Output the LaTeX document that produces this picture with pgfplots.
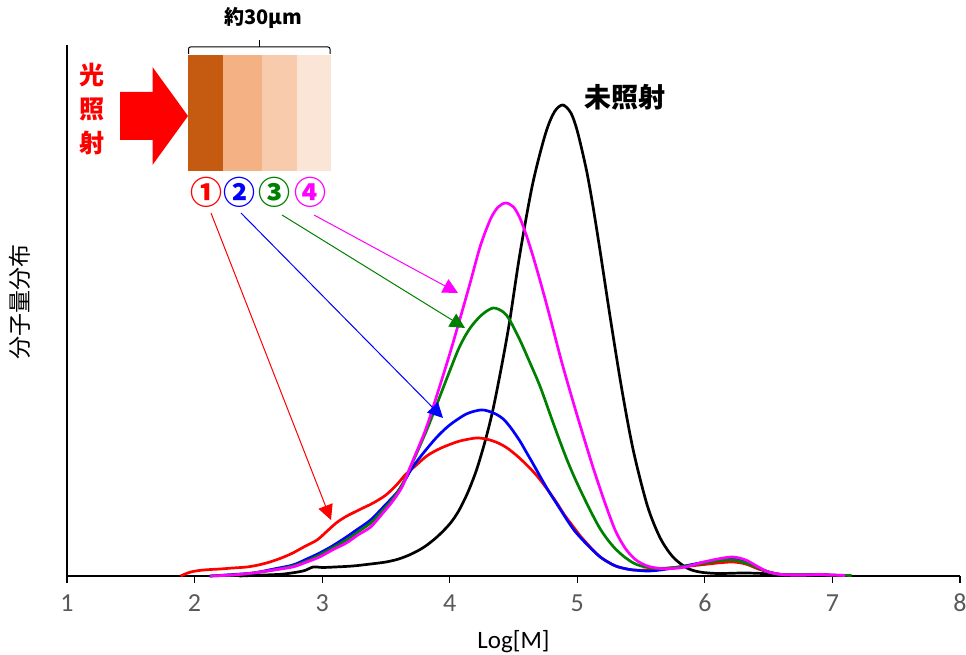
\documentclass[border=0pt]{standalone}
\usepackage{fontspec}
\usepackage{graphicx}
\usepackage{pgfplots}
\pgfplotsset{compat=1.18}
\usetikzlibrary{arrows.meta}
\setmainfont{Carlito}
\newfontfamily\jp{Noto Sans CJK JP}
\definecolor{tickgray}{HTML}{595959}
\definecolor{cA}{HTML}{C55A11}
\definecolor{cB}{HTML}{F4B183}
\definecolor{cC}{HTML}{F8CBAD}
\definecolor{cD}{HTML}{FBE5D6}
\definecolor{mygreen}{RGB}{0,128,0}
\definecolor{mymag}{RGB}{255,0,255}

\pgfplotstableread{
x y
2.35 0
2.55 1
2.7 2
2.85 5
2.93 9
3.0 8.5
3.1 9
3.24 10
3.38 12
3.5 14
3.6 17
3.7 22
3.8 29
3.9 39
4.0 52
4.07 65
4.14 83
4.21 106
4.28 136
4.34 167
4.41 212
4.47 255
4.55 322
4.65 392
4.75 442
4.82 464
4.886 471
4.95 463
5.0 445
5.07 407
5.12 372
5.18 324
5.26 257
5.35 186
5.44 125
5.55 70
5.65 38
5.75 19
5.86 8
5.96 4
6.1 2.5
6.3 3
6.45 2.5
6.6 1
6.8 1
6.95 0.5
}\blackdata

\pgfplotstableread{
x y
1.89 0
1.97 4
2.07 6
2.2 7
2.3 8
2.41 9
2.5 11
2.59 14
2.68 18
2.77 23
2.87 30
2.96 36
3.04 45
3.11 53
3.18 59
3.24 63
3.32 68
3.40 73
3.5 81
3.59 92
3.65 101
3.73 110
3.82 120
3.9 126
3.97 130
4.08 135
4.21 138
4.3 136.5
4.38 133
4.45 128
4.52 121
4.58 114
4.65 105
4.71 96
4.78 84
4.84 73
4.9 61
4.97 49
5.03 39
5.08 32
5.13 25
5.18 19
5.24 14
5.3 10
5.37 7.5
5.44 6
5.55 6
5.65 7
5.8 9
5.96 11
6.1 13
6.22 14
6.32 12
6.42 7
6.5 4
6.6 1.5
6.75 1
6.9 1.5
7.0 0.5
}\reddata

\pgfplotstableread{
x y
2.12 0
2.3 1.5
2.46 3
2.62 7
2.77 11
2.88 17
2.98 23
3.08 30
3.19 39
3.28 47
3.38 56
3.48 69
3.59 84
3.65 96
3.71 109
3.8 124
3.9 139
4.0 151
4.13 162
4.24 166
4.3 165
4.36 162
4.42 157
4.48 148
4.55 135
4.6 124
4.65 113
4.72 97
4.78 84
4.85 70
4.92 56
4.98 45
5.05 35
5.12 26
5.18 19
5.24 14
5.3 10
5.37 7.5
5.44 6
5.55 5
5.65 6
5.8 9
5.96 13
6.1 16
6.22 17
6.32 14
6.42 8
6.5 4
6.6 1.5
6.75 1
6.9 1.5
7.0 0.5
}\bluedata

\pgfplotstableread{
x y
2.12 0
2.3 1
2.46 3
2.62 6
2.77 10
2.88 15
2.98 21
3.08 28
3.19 36
3.28 44
3.38 53
3.47 65
3.56 78
3.63 92
3.7 111
3.82 146
3.9 172
4.0 205
4.08 230
4.16 248
4.25 261
4.34 268
4.42 264
4.47 256
4.55 236
4.63 213
4.71 189
4.8 157
4.86 136
4.92 116
4.98 98
5.05 79
5.12 61
5.18 47
5.24 36
5.3 27
5.37 19
5.44 13
5.5 10
5.58 8
5.65 7.5
5.8 9
5.96 12
6.1 15
6.22 16
6.32 13
6.42 8
6.5 4
6.6 1.5
6.75 1
6.9 1.5
7.0 1
7.15 0.5
}\greendata

\pgfplotstableread{
x y
2.12 0
2.3 1
2.46 3
2.62 6
2.77 9
2.88 14
2.98 19
3.08 26
3.19 33
3.28 41
3.38 49
3.47 62
3.56 76
3.63 90
3.7 112
3.81 146
3.9 181
4.0 222
4.08 257
4.16 293
4.24 330
4.32 357
4.38 369
4.44 373
4.5 369
4.55 358
4.6 341
4.65 321
4.7 299
4.75 276
4.8 252
4.88 213
4.97 173
5.05 139
5.13 106
5.22 72
5.3 45
5.38 27
5.46 16
5.55 10
5.65 7.5
5.75 7.5
5.85 9
5.96 13
6.1 17
6.22 19
6.32 16
6.42 9
6.5 4
6.6 1.5
6.75 1
6.9 1.5
7.0 1
7.1 0.5
}\magdata

\begin{document}
\begin{tikzpicture}
\path[use as bounding box] (-67pt,-79pt) rectangle (899pt,576pt);
\begin{axis}[
  at={(0,0)}, anchor=south west,
  scale only axis, width=893pt, height=531pt,
  xmin=1, xmax=8, ymin=0, ymax=531,
  axis lines=left,
  axis line style={-, line width=1.5pt},
  xtick={1,2,3,4,5,6,7,8}, ytick=\empty,
  tick align=outside, major tick length=7pt,
  tick style={black, line width=1.2pt},
  xticklabel style={font=\fontsize{26}{26}\selectfont, text=tickgray, anchor=center, yshift=-20pt},
  /pgf/number format/assume math mode=true,
  clip=false,
  every axis plot/.append style={line width=2.7pt, smooth, no markers, line join=round},
]
\addplot[black] table[x=x,y=y] {\blackdata};
\addplot[red] table[x=x,y=y] {\reddata};
\addplot[blue] table[x=x,y=y] {\bluedata};
\addplot[mygreen] table[x=x,y=y] {\greendata};
\addplot[mymag] table[x=x,y=y] {\magdata};
\end{axis}
\begin{scope}[x=1pt,y=-1pt,shift={(-67pt,576pt)}]
 \fill[cA] (188,55) rectangle (222.5,171);
 \fill[cB] (222.5,55) rectangle (261.5,171);
 \fill[cC] (261.5,55) rectangle (296.5,171);
 \fill[cD] (296.5,55) rectangle (330.5,171);
 \fill[red] (120,92) -- (152.5,92) -- (152.5,67) -- (188,116) -- (152.5,165) -- (152.5,140) -- (120,140) -- cycle;
 \draw[line width=1pt, rounded corners=2pt] (188.5,54) -- (188.5,47) -- (330,47) -- (330,54);
 \draw[line width=1pt] (259,47) -- (259,40.5);
 \node[font=\jp\bfseries\fontsize{20}{24}\selectfont] at (263,18) {約30μm};
 \node[font=\jp\bfseries\fontsize{25}{34}\selectfont, text=red, align=center] at (92,109) {光\\照\\射};
 \node[font=\jp\bfseries\fontsize{27}{30}\selectfont] at (625,97) {未照射};
 \node[font=\jp\bfseries\fontsize{32}{32}\selectfont, text=red] at (206,192) {①};
 \node[font=\jp\bfseries\fontsize{32}{32}\selectfont, text=blue] at (239.5,192) {②};
 \node[font=\jp\bfseries\fontsize{32}{32}\selectfont, text=mygreen] at (274,192) {③};
 \node[font=\jp\bfseries\fontsize{32}{32}\selectfont, text=mymag] at (310,192) {④};
 \draw[red, line width=1pt, -{Triangle[length=15pt,width=15pt]}] (211,213) -- (331,520);
 \draw[blue, line width=1pt, -{Triangle[length=15pt,width=15pt]}] (241,213) -- (443,418);
 \draw[mygreen, line width=1pt, -{Triangle[length=15pt,width=15pt]}] (282,215) -- (465,328);
 \draw[mymag, line width=1pt, -{Triangle[length=15pt,width=15pt]}] (314,215) -- (458,293);
 \node[rotate=90, font=\jp\fontsize{23}{23}\selectfont] at (20,302) {分子量分布};
 \node[font=\fontsize{25}{25}\selectfont] at (513.5,642) {Log[M]};
\end{scope}
\end{tikzpicture}
\end{document}
